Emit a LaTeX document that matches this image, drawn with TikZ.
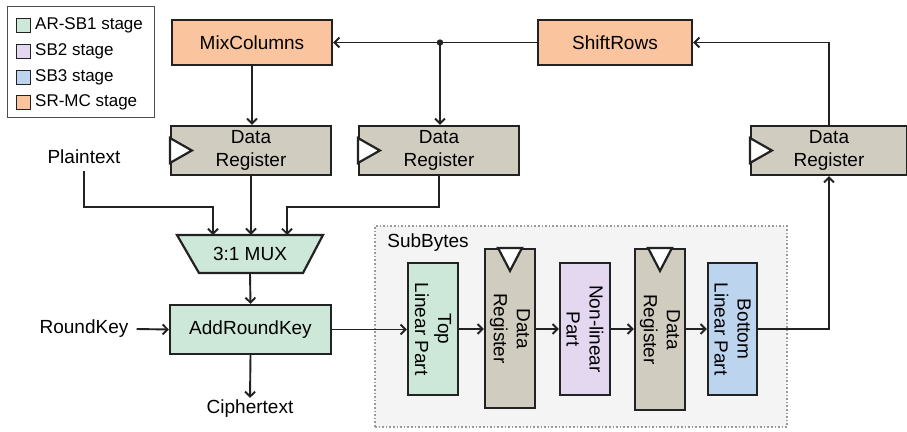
\documentclass[tikz,border=0pt]{standalone}
\usepackage{fontspec}
\setmainfont{Liberation Sans}
\usetikzlibrary{arrows.meta}
\definecolor{cgreen}{HTML}{CDE8D8}
\definecolor{cpurple}{HTML}{E4D8F1}
\definecolor{cblue}{HTML}{BCD4EE}
\definecolor{corange}{HTML}{FAC59E}
\definecolor{cgray}{HTML}{D0CCC0}
\definecolor{cline}{HTML}{222222}
\definecolor{csub}{HTML}{F4F4F4}
\begin{document}
\begin{tikzpicture}[x=1pt,y=-1pt,
  box/.style={draw=cline, line width=2.2pt, inner sep=0pt, align=center,
    font=\fontsize{19}{23}\selectfont},
  hbox/.style={box, minimum height=45pt},
  reg/.style={box, fill=cgray, minimum height=49pt},
  vbox/.style={box, minimum width=50pt, minimum height=132pt},
  vtext/.style={rotate=-90, align=center, inner sep=0pt, font=\fontsize{19}{23}\selectfont},
  lbl/.style={inner sep=2pt, font=\fontsize{19}{23}\selectfont},
  arr/.style={draw=cline, line width=1.9pt, -{Straight Barb[length=5pt,width=10pt,line width=1.9pt]}},
  clk/.style={draw=cline, line width=2.2pt, fill=white, line join=miter},
  legsq/.style={draw=cline, line width=1pt, minimum size=14pt, inner sep=0pt},
  legtx/.style={anchor=west, inner sep=0pt, font=\fontsize{17}{20}\selectfont}
]
\useasboundingbox (0,0) rectangle (907,431);

% SubBytes region
\node[draw=gray!80, dotted, line width=1.6pt, fill=csub, minimum width=412pt, minimum height=201pt, inner sep=0pt] (sub) at (581,326.5) {};
\node[lbl, anchor=center] (sublbl) at (428,243) {SubBytes};

% Legend
\node[draw=cline!80, line width=1pt, minimum width=147pt, minimum height=111pt, inner sep=0pt] (leg) at (80.5,61.5) {};
\node[legsq, fill=cgreen] (l1) at (23.5,25) {};
\node[legsq, fill=cpurple] (l2) at (23.5,51) {};
\node[legsq, fill=cblue] (l3) at (23.5,77) {};
\node[legsq, fill=corange] (l4) at (23.5,102) {};
\node[legtx] (t1) at (35,25) {AR-SB1 stage};
\node[legtx] (t2) at (35,51) {SB2 stage};
\node[legtx] (t3) at (35,77) {SB3 stage};
\node[legtx] (t4) at (35,102) {SR-MC stage};

% Top row
\node[hbox, fill=corange, minimum width=160pt] (mix) at (252,42.5) {MixColumns};
\node[hbox, fill=corange, minimum width=154pt] (shift) at (615,42.5) {ShiftRows};

% Data registers (horizontal)
\node[reg, minimum width=160pt] (dr1) at (251,150.5) {Data\\Register};
\node[reg, minimum width=160pt] (dr2) at (439,150.5) {Data\\Register};
\node[reg, minimum width=156pt] (dr3) at (829,150.5) {Data\\Register};
\foreach \r in {dr1,dr2,dr3}{
  \draw[clk] ([yshift=12.5pt]\r.west) -- ++(22,12.5) -- ([yshift=-12.5pt]\r.west) -- cycle;
}

% MUX
\draw[draw=cline, line width=2.2pt, fill=cgreen, line join=miter] (177,235) -- (323,235) -- (303,273) -- (199,273) -- cycle;
\node[lbl, minimum width=146pt, minimum height=38pt, inner sep=0pt] (mux) at (250,254) {3:1 MUX};

% AddRoundKey
\node[box, fill=cgreen, minimum width=161pt, minimum height=49pt] (ark) at (250.5,329.5) {AddRoundKey};

% Labels
\node[lbl] (pt) at (84,157) {Plaintext};
\node[lbl] (rk) at (84,329) {RoundKey};
\node[lbl] (ct) at (250,409) {Ciphertext};

% SubBytes internals
\node[vbox, fill=cgreen] (tl) at (433,329) {};
\node[vtext] at (tl) {Top\\Linear Part};
\node[box, fill=cgray, minimum width=50pt, minimum height=159pt] (dv1) at (510,328.5) {};
\node[vtext] at (dv1) {Data\\Register};
\node[vbox, fill=cpurple] (nl) at (585,329) {};
\node[vtext] at (nl) {Non-linear\\Part};
\node[box, fill=cgray, minimum width=50pt, minimum height=161pt] (dv2) at (660,329.5) {};
\node[vtext] at (dv2) {Data\\Register};
\node[vbox, fill=cblue, minimum width=49pt] (bl) at (732.5,329) {};
\node[vtext] at (bl) {Bottom\\Linear Part};
\foreach \r in {dv1,dv2}{
  \draw[clk] ([xshift=-12pt]\r.north) -- ++(12,23) -- ([xshift=12pt]\r.north) -- cycle;
}

% Connectors
\coordinate (j) at (440,42.5);
\draw[arr] (shift.west) -- (mix.east);
\fill[cline] (j) circle (3.2pt);
\draw[arr] (j) -- (j |- dr2.north);
\draw[arr] (mix.south) -- (mix.south |- dr1.north);
\draw[arr] (dr3.north) |- (shift.east);

\coordinate (m1) at (213,235);
\coordinate (m3) at (287,235);
\draw[arr] ([yshift=-5pt]pt.south) |- (213,207) -- (m1);
\draw[arr] (dr1.south) -- (dr1.south |- mux.north);
\draw[arr] (dr2.south) |- (287,207) -- (m3);
\draw[arr] (mux.south) -- (ark.north);
\draw[arr] ([xshift=6pt]rk.east) -- (ark.west);
\draw[arr] (ark.south) -- (ct.north);

\draw[arr] (ark.east) -- (ark.east -| tl.west);
\draw[arr] (tl.east) -- (tl.east -| dv1.west);
\draw[arr] (dv1.east |- tl.east) -- (tl.east -| nl.west);
\draw[arr] (nl.east) -- (nl.east -| dv2.west);
\draw[arr] (dv2.east |- nl.east) -- (nl.east -| bl.west);
\draw[arr] (bl.east) -| (dr3.south);
\end{tikzpicture}
\end{document}
